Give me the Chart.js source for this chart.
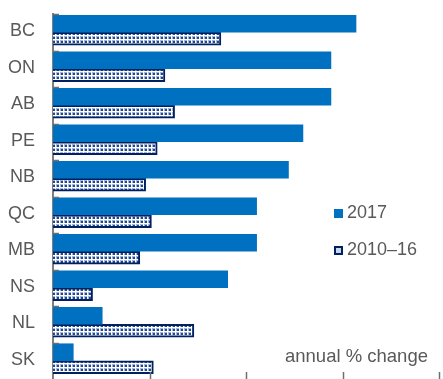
<!DOCTYPE html>
<html>
<head>
<meta charset="utf-8">
<script src="https://cdn.jsdelivr.net/npm/chart.js@4"></script>
<style>
  html, body { margin: 0; padding: 0; overflow: hidden; background: #fff; }
  #wrap { position: relative; width: 443px; height: 379px; }
  canvas { display: block; }
  .lbl { position: absolute; font-family: "Liberation Sans", Arial, sans-serif; color: #595959; white-space: nowrap; }
  .sw { position: absolute; width: 9px; height: 9px; }
</style>
</head>
<body>
<div id="wrap">
  <canvas id="myChart" width="443" height="379"></canvas>
  <div class="sw" style="left:334px; top:209px; background:#0070c0;"></div>
  <div class="lbl" style="left:347px; top:202px; font-size:18px;">2017</div>
  <div class="sw" style="left:334px; top:246px; box-sizing:border-box; border:2px solid #002060; background:#c9d6ec;"></div>
  <div class="lbl" style="left:347px; top:239px; font-size:18px;">2010–16</div>
  <div class="lbl" style="left:285px; top:345px; font-size:18.5px;">annual % change</div>
</div>
<script>
// Provinces, top to bottom
const provinces = ["BC", "ON", "AB", "PE", "NB", "QC", "MB", "NS", "NL", "SK"];
// annual % change
const growth2017 = [3.14, 2.88, 2.88, 2.59, 2.44, 2.11, 2.11, 1.81, 0.51, 0.21];
const growth2010_16 = [1.74, 1.16, 1.26, 1.08, 0.96, 1.02, 0.90, 0.41, 1.46, 1.04];
const xTicks = [1, 2, 3, 4];

// dotted fill for the 2010-16 bars
const tile = document.createElement("canvas");
tile.width = 4;
tile.height = 4;
const tctx = tile.getContext("2d");
tctx.fillStyle = "#ffffff";
tctx.fillRect(0, 0, 4, 4);
tctx.fillStyle = "#9fb5dc";
tctx.fillRect(0, 0, 3, 3);
tctx.fillStyle = "#23458c";
tctx.fillRect(1, 1, 2, 2);

const ctx = document.getElementById("myChart").getContext("2d");
const dots = ctx.createPattern(tile, "repeat");

// inner tick marks on both axes
const innerTicks = {
  id: "innerTicks",
  afterDraw(chart) {
    const c = chart.ctx;
    const xs = chart.scales.x;
    const ys = chart.scales.y;
    const area = chart.chartArea;
    c.save();
    c.strokeStyle = "#6f6f6f";
    c.lineWidth = 1.5;
    xTicks.forEach((v) => {
      const px = Math.round(xs.getPixelForValue(v)) + 0.5;
      c.beginPath();
      c.moveTo(px, area.bottom - 7);
      c.lineTo(px, area.bottom);
      c.stroke();
    });
    const step = ys.getPixelForValue(1) - ys.getPixelForValue(0);
    for (let i = 0; i < provinces.length; i++) {
      const py = Math.round(ys.getPixelForValue(i) - step / 2) + 0.5;
      c.beginPath();
      c.moveTo(area.left, py);
      c.lineTo(area.left + 6, py);
      c.stroke();
    }
    c.restore();
  },
};

const chart = new Chart(ctx, {
  type: "bar",
  data: {
    labels: provinces,
    datasets: [
      {
        label: "2017",
        data: growth2017,
        backgroundColor: "#0070c0",
        borderWidth: 0,
        barThickness: 17,
      },
      {
        label: "2010–16",
        data: growth2010_16,
        backgroundColor: dots,
        borderColor: "#002060",
        borderWidth: 2,
        barThickness: 13,
      },
    ],
  },
  options: {
    indexAxis: "y",
    responsive: false,
    animation: false,
    layout: { padding: { top: 14, right: 4, bottom: 0, left: 0 } },
    plugins: { legend: { display: false }, tooltip: { enabled: false } },
    scales: {
      x: {
        display: false,
        min: 0,
        max: 4,
      },
      y: {
        grid: { display: false, drawTicks: false },
        border: { display: true, color: "#7f7f7f", width: 2 },
        ticks: {
          color: "#595959",
          font: { family: "Liberation Sans", size: 18 },
          padding: 18,
          labelOffset: -1,
        },
        afterFit(scale) {
          scale.width = 53;
          scale.paddingTop = 0;
          scale.paddingBottom = 0;
        },
      },
    },
  },
  plugins: [innerTicks],
});
</script>
</body>
</html>
